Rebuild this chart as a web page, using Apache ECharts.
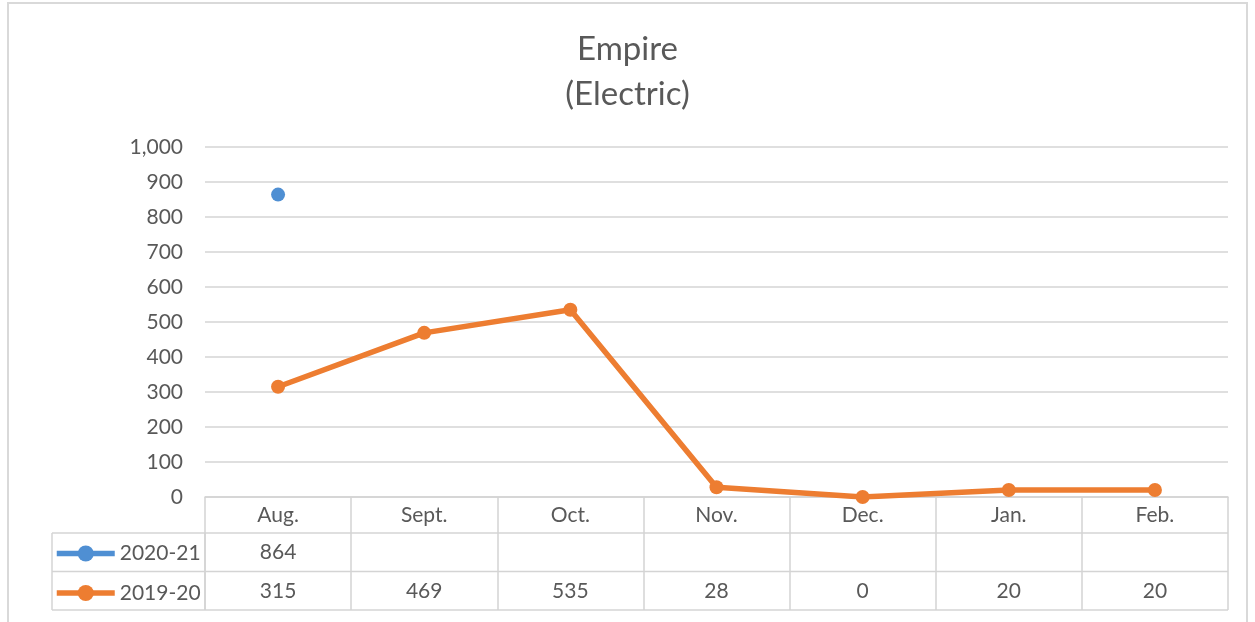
<!DOCTYPE html>
<html>
<head>
<meta charset="utf-8">
<script src="https://cdn.jsdelivr.net/npm/echarts@6/dist/echarts.min.js"></script>
<style>
  html, body { margin: 0; padding: 0; background: #fff; }
  #chart { width: 1255px; height: 622px; }
</style>
</head>
<body>
<div id="chart"></div>
<script>
// data
const months = ['Aug.', 'Sept.', 'Oct.', 'Nov.', 'Dec.', 'Jan.', 'Feb.']
const seriesNames = ['2020-21', '2019-20']
const values2021 = [864, null, null, null, null, null, null]
const values1920 = [315, 469, 535, 28, 0, 20, 20]
const yTicks = [0, 100, 200, 300, 400, 500, 600, 700, 800, 900, 1000]

const textColor = '#595959'
const lineColor = '#d4d4d4'
const font = 'Lato'

const gridLeft = 205
const gridRight = 27
const gridTop = 147
const gridBottom = 125
const headerH = 36
const rowH = 38.5
const tableLeft = 52

const chart = echarts.init(document.getElementById('chart'), null, { renderer: 'canvas' })

const option = {
  animation: false,
  backgroundColor: '#fff',
  textStyle: { fontFamily: font },
  title: {
    text: 'Empire\n(Electric)',
    left: 'center',
    top: 22,
    textStyle: {
      color: textColor,
      fontSize: 33,
      fontWeight: 'normal',
      lineHeight: 45,
      fontFamily: font
    }
  },
  legend: {
    orient: 'vertical',
    left: 54,
    top: 543,
    padding: 0,
    itemWidth: 58,
    itemHeight: 20,
    itemGap: 18.5,
    lineStyle: { width: 5.5 },
    textStyle: { color: textColor, fontSize: 21, lineHeight: 20, fontFamily: font },
    data: seriesNames
  },
  grid: {
    left: gridLeft,
    right: gridRight,
    top: gridTop,
    bottom: gridBottom,
    containLabel: false
  },
  xAxis: {
    type: 'category',
    data: months,
    boundaryGap: true,
    axisLine: { show: true, lineStyle: { color: lineColor, width: 1.5 } },
    axisTick: { show: true, length: headerH + rowH * 2, lineStyle: { color: lineColor, width: 1.5 } },
    axisLabel: { color: textColor, fontSize: 21, margin: 6, lineHeight: 24, fontFamily: font },
    splitLine: { show: false }
  },
  yAxis: {
    type: 'value',
    min: yTicks[0],
    max: yTicks[yTicks.length - 1],
    interval: 100,
    axisLine: { show: false },
    axisTick: { show: false },
    axisLabel: {
      color: textColor,
      fontSize: 21,
      margin: 22,
      fontFamily: font,
      formatter: v => v.toLocaleString('en-US')
    },
    splitLine: { lineStyle: { color: lineColor, width: 1.5 } }
  },
  series: [
    {
      name: seriesNames[0],
      type: 'line',
      data: values2021,
      symbol: 'circle',
      symbolSize: 14,
      itemStyle: { color: '#4f8fd3' },
      lineStyle: { width: 5.5, color: '#4f8fd3' },
      connectNulls: false
    },
    {
      name: seriesNames[1],
      type: 'line',
      data: values1920,
      symbol: 'circle',
      symbolSize: 14,
      itemStyle: { color: '#ed7d31' },
      lineStyle: { width: 5.5, color: '#ed7d31' }
    }
  ]
}

chart.setOption(option)

// data table below the axis, cells placed with the axis scale
const drawTable = () => {
  const h = chart.getHeight()
  const w = chart.getWidth()
  const y0 = h - gridBottom
  const right = w - gridRight
  const rows = [values2021, values1920]
  const els = []

  // outer frame
  els.push({
    type: 'rect',
    shape: { x: 8, y: 3, width: w - 16, height: h + 20 },
    style: { fill: null, stroke: '#d9d9d9', lineWidth: 2 },
    silent: true
  })

  // horizontal row lines
  for (let r = 0; r <= rows.length; r++) {
    const y = y0 + headerH + r * rowH
    els.push({
      type: 'line',
      shape: { x1: tableLeft, y1: y, x2: right, y2: y },
      style: { stroke: lineColor, lineWidth: 1.5 },
      silent: true
    })
  }
  // left border of legend column
  els.push({
    type: 'line',
    shape: { x1: tableLeft, y1: y0 + headerH, x2: tableLeft, y2: y0 + headerH + rowH * rows.length },
    style: { stroke: lineColor, lineWidth: 1.5 },
    silent: true
  })
  els.push({
    type: 'line',
    shape: { x1: gridLeft, y1: y0 + headerH, x2: gridLeft, y2: y0 + headerH + rowH * rows.length },
    style: { stroke: lineColor, lineWidth: 1.5 },
    silent: true
  })

  // cell values
  rows.forEach((vals, r) => {
    const cy = y0 + headerH + r * rowH + rowH / 2
    vals.forEach((v, i) => {
      if (v === null || v === undefined) return
      const cx = chart.convertToPixel({ xAxisIndex: 0 }, i)
      els.push({
        type: 'text',
        x: cx,
        y: cy,
        style: {
          text: String(v),
          fill: textColor,
          font: '21px ' + font,
          align: 'center',
          verticalAlign: 'middle'
        },
        silent: true
      })
    })
  })

  chart.setOption({ graphic: { elements: els } })
}

drawTable()
</script>
</body>
</html>
